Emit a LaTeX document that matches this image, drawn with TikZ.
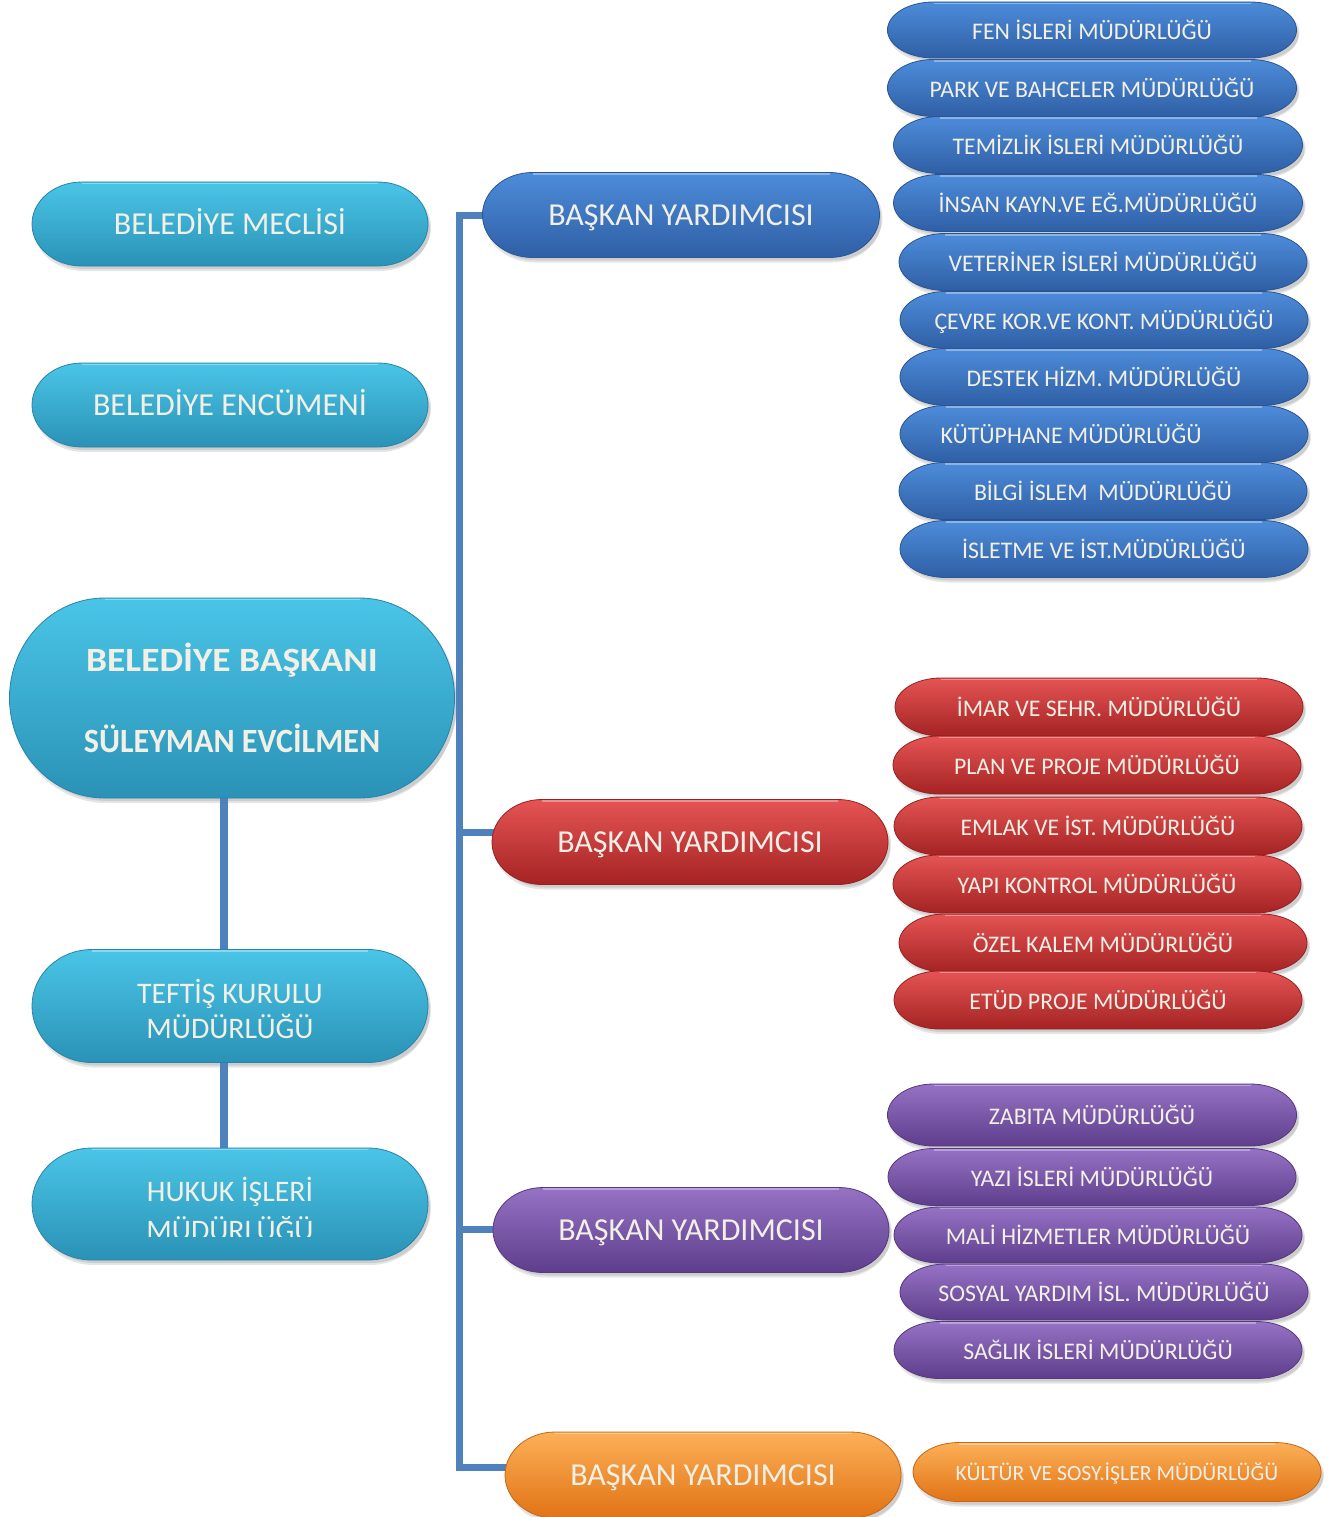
\documentclass[tikz,border=0pt]{standalone}
\usepackage{fontspec}
\setmainfont{Carlito}
\usepackage{trimclip}
\usetikzlibrary{calc}
\pgfdeclarelayer{bgwhite}
\pgfdeclarelayer{shadowl}
\pgfdeclarelayer{connl}
\pgfdeclarelayer{background}
\pgfsetlayers{bgwhite,shadowl,connl,background,main}
\definecolor{txt}{HTML}{F2F0E6}
\definecolor{lineblue}{HTML}{4F81BD}
\definecolor{cyT}{HTML}{4AC5E7}\definecolor{cyB}{HTML}{2A92B6}\definecolor{cyD}{HTML}{2784A6}
\definecolor{blT}{HTML}{4D8CDA}\definecolor{blB}{HTML}{2F5FA5}\definecolor{blD}{HTML}{2A5592}
\definecolor{rdT}{HTML}{E55454}\definecolor{rdB}{HTML}{A52323}\definecolor{rdD}{HTML}{962020}
\definecolor{puT}{HTML}{9672C4}\definecolor{puB}{HTML}{5E3E8C}\definecolor{puD}{HTML}{55387F}
\definecolor{orT}{HTML}{FCB058}\definecolor{orB}{HTML}{E17315}\definecolor{orD}{HTML}{C86612}
\newcommand\bigf{\fontsize{32}{36}\selectfont}
\newcommand\twof{\fontsize{29.8}{35}\selectfont}
\newcommand\smallf{\fontsize{23.8}{26}\selectfont}
\newcommand\orsmallf{\fontsize{21.7}{24}\selectfont}
\newcommand\boldf{\fontsize{34}{81}\selectfont\bfseries}
\tikzset{
  pilltext/.style={text=txt, inner sep=0pt, outer sep=0pt, align=center},
  bigtext/.style={font=\bigf, text height=20.6pt, text depth=0pt},
  smalltext/.style={font=\smallf, text height=19pt, text depth=0pt},
  orsmalltext/.style={font=\orsmallf, text height=16pt, text depth=0pt},
  twotext/.style={font=\twof},
  boldtext/.style={font=\boldf},
  cyanfill/.style={top color=cyT, bottom color=cyB, draw=cyD, line width=0.8pt},
  bluefill/.style={top color=blT, bottom color=blB, draw=blD, line width=0.8pt},
  redfill/.style={top color=rdT, bottom color=rdB, draw=rdD, line width=0.8pt},
  purplefill/.style={top color=puT, bottom color=puB, draw=puD, line width=0.8pt},
  orangefill/.style={top color=orT, bottom color=orB, draw=orD, line width=0.8pt},
  conn/.style={draw=lineblue, line width=7pt},
  connleft/.style={draw=lineblue, line width=8.5pt},
}
% path of a pill round node #1, end depth #2, half height #3
\newcommand\pillpath[3]{([xshift=#2]#1.north west) -- ([xshift=-#2]#1.north east)
  arc[start angle=90,end angle=-90,x radius=#2,y radius=#3]
  -- ([xshift=#2]#1.south west)
  arc[start angle=270,end angle=90,x radius=#2,y radius=#3] -- cycle}
% #1 name, #2 cx, #3 cy (from top), #4 w, #5 h, #6 end depth, #7 fill style, #8 text style, #9 text
\newcommand\pill[9]{%
  \node[pilltext, minimum width=#4pt, minimum height=#5pt, #8] (#1) at (#2,-#3) {#9};
  \pgfmathsetmacro\ph{#5/2}%
  \begin{pgfonlayer}{shadowl}
    \fill[black, opacity=0.10, transform canvas={shift={(2pt,-5pt)}}] \pillpath{#1}{#6}{\ph};
    \fill[black, opacity=0.10, transform canvas={shift={(3pt,-3pt)}}] \pillpath{#1}{#6}{\ph};
  \end{pgfonlayer}
  \begin{pgfonlayer}{background}
    \path[#7] \pillpath{#1}{#6}{\ph};
    \draw[white, opacity=0.35, line width=1.2pt, transform canvas={shift={(0pt,-1.5pt)}}]
      ([xshift=#6]#1.north west) -- ([xshift=-#6]#1.north east);
  \end{pgfonlayer}
}
\begin{document}
\begin{tikzpicture}[x=1pt,y=1pt]
\useasboundingbox (0,0) rectangle (1338,-1517);
\begin{pgfonlayer}{bgwhite}
  \fill[white] (0,0) rectangle (1338,-1517);
\end{pgfonlayer}
% left column
\pill{meclis}{230}{224}{396}{84}{50}{cyanfill}{bigtext}{BELEDİYE MECLİSİ}
\pill{encumen}{230}{405}{396}{84}{50}{cyanfill}{bigtext}{BELEDİYE ENCÜMENİ}
\pill{baskan}{232}{698}{445}{200}{95}{cyanfill}{boldtext}{\scalebox{1.1}[1]{BELEDİYE BAŞKANI}\\\scalebox{0.945}[1]{SÜLEYMAN EVCİLMEN}}
\pill{teftis}{230}{1006}{396}{113}{60}{cyanfill}{twotext}{\rule{0pt}{30pt}TEFTİŞ KURULU\\MÜDÜRLÜĞÜ}
\pill{hukuk}{230}{1204}{396}{112}{60}{cyanfill}{twotext}{\rule{0pt}{30pt}HUKUK İŞLERİ\\\clipbox{0pt 4pt 0pt 0pt}{MÜDÜRLÜĞÜ}\rule{0pt}{4pt}}
% deputies
\pill{by1}{681}{215}{397}{85}{50}{bluefill}{bigtext}{BAŞKAN YARDIMCISI}
\pill{by2}{690}{842}{396}{85}{50}{redfill}{bigtext}{BAŞKAN YARDIMCISI}
\pill{by3}{691}{1230}{396}{85}{50}{purplefill}{bigtext}{BAŞKAN YARDIMCISI}
\pill{by4}{703}{1475}{396}{86}{50}{orangefill}{bigtext}{BAŞKAN YARDIMCISI}
% blue directorates
\pill{b1}{1092}{30}{409}{56}{46}{bluefill}{smalltext}{FEN İSLERİ MÜDÜRLÜĞÜ}
\pill{b2}{1092}{88}{409}{57}{46}{bluefill}{smalltext}{PARK VE BAHCELER MÜDÜRLÜĞÜ}
\pill{b3}{1098}{145}{409}{57}{46}{bluefill}{smalltext}{TEMİZLİK İSLERİ MÜDÜRLÜĞÜ}
\pill{b4}{1098}{203}{409}{57}{46}{bluefill}{smalltext}{İNSAN KAYN.VE EĞ.MÜDÜRLÜĞÜ}
\pill{b5}{1103}{262}{408}{57}{46}{bluefill}{smalltext}{VETERİNER İSLERİ MÜDÜRLÜĞÜ}
\pill{b6}{1104}{320}{408}{57}{46}{bluefill}{smalltext}{ÇEVRE KOR.VE KONT. MÜDÜRLÜĞÜ}
\pill{b7}{1104}{377}{408}{57}{46}{bluefill}{smalltext}{DESTEK HİZM. MÜDÜRLÜĞÜ}
\pill{b8}{1104}{434}{408}{57}{46}{bluefill}{smalltext}{KÜTÜPHANE MÜDÜRLÜĞÜ\hspace{66pt}}
\pill{b9}{1103}{491}{408}{57}{46}{bluefill}{smalltext}{BİLGİ İSLEM\ \ MÜDÜRLÜĞÜ}
\pill{b10}{1104}{549}{408}{57}{46}{bluefill}{smalltext}{İSLETME VE İST.MÜDÜRLÜĞÜ}
% red directorates
\pill{r1}{1099}{707}{408}{58}{46}{redfill}{smalltext}{İMAR VE SEHR. MÜDÜRLÜĞÜ}
\pill{r2}{1097}{765}{408}{58}{46}{redfill}{smalltext}{PLAN VE PROJE MÜDÜRLÜĞÜ}
\pill{r3}{1098}{826}{408}{58}{46}{redfill}{smalltext}{EMLAK VE İST. MÜDÜRLÜĞÜ}
\pill{r4}{1097}{884}{408}{58}{46}{redfill}{smalltext}{YAPI KONTROL MÜDÜRLÜĞÜ}
\pill{r5}{1103}{943}{408}{58}{46}{redfill}{smalltext}{ÖZEL KALEM MÜDÜRLÜĞÜ}
\pill{r6}{1098}{1000}{408}{58}{46}{redfill}{smalltext}{ETÜD PROJE MÜDÜRLÜĞÜ}
% purple directorates
\pill{p1}{1092}{1115}{409}{62}{46}{purplefill}{smalltext}{ZABITA MÜDÜRLÜĞÜ}
\pill{p2}{1092}{1177}{408}{57}{46}{purplefill}{smalltext}{YAZI İSLERİ MÜDÜRLÜĞÜ}
\pill{p3}{1098}{1235}{408}{56}{46}{purplefill}{smalltext}{MALİ HİZMETLER MÜDÜRLÜĞÜ}
\pill{p4}{1104}{1292}{408}{56}{46}{purplefill}{smalltext}{SOSYAL YARDIM İSL. MÜDÜRLÜĞÜ}
\pill{p5}{1098}{1350}{408}{57}{46}{purplefill}{smalltext}{SAĞLIK İSLERİ MÜDÜRLÜĞÜ}
% orange directorate
\pill{o1}{1117}{1472}{408}{59}{46}{orangefill}{orsmalltext}{KÜLTÜR VE SOSY.İŞLER MÜDÜRLÜĞÜ}
% connectors
\coordinate (bus) at (459,-214);
\begin{pgfonlayer}{connl}
  \draw[connleft] ([xshift=-8pt]baskan.south) -- ([xshift=-6pt]teftis.north);
  \draw[connleft] ([xshift=-6pt]teftis.south) -- ([xshift=-6pt]hukuk.north);
  \draw[conn] ([xshift=4pt]by1.west) -- (by1.west -| bus) -- ([yshift=8pt]by4.west -| bus) -- ([xshift=4pt,yshift=8pt]by4.west);
  \draw[conn] ([yshift=10pt]by2.west -| bus) -- ([xshift=4pt,yshift=10pt]by2.west);
  \draw[conn] ([yshift=1pt]by3.west -| bus) -- ([xshift=4pt,yshift=1pt]by3.west);
\end{pgfonlayer}
\end{tikzpicture}
\end{document}
